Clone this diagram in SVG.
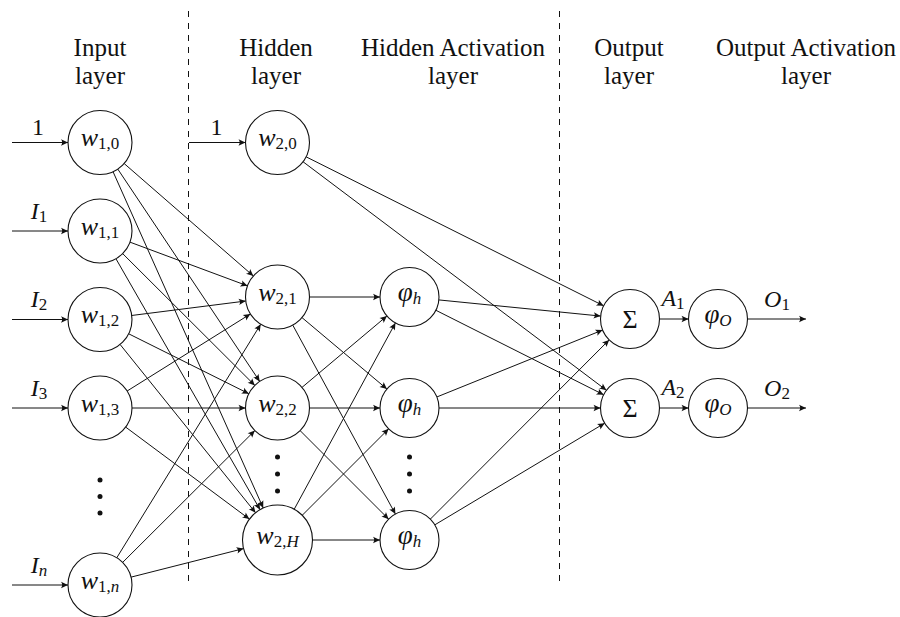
<svg xmlns="http://www.w3.org/2000/svg" width="900" height="617" viewBox="0 0 900 617">
  <defs>
    <marker id="arr" viewBox="-8 -4 9 8" refX="0" refY="0" markerWidth="9" markerHeight="8" orient="auto" markerUnits="userSpaceOnUse">
      <path d="M0,0 L-7,-3.2 Q-4.6,0 -7,3.2 Z" fill="#111"/>
    </marker>
  </defs>
  <style>
    text { font-family: "Liberation Serif", "Times New Roman", serif; fill: #111; }
    .hdr { font-size: 25px; text-anchor: middle; }
    .m { font-size: 24px; text-anchor: middle; }
    .w { font-size: 26px; font-style: italic; }
    .phi { font-size: 27px; font-style: italic; }
    .sig { font-size: 26px; }
    .sub { font-size: 17px; font-style: normal; }
    .it, .sub.it { font-style: italic; }
    .node circle { fill: #fff; stroke: #111; stroke-width: 1.1; }
    .edge line { stroke: #111; stroke-width: 1; marker-end: url(#arr); }
    .sep { stroke: #111; stroke-width: 1; stroke-dasharray: 6 6; }
    .dots circle { fill: #111; }
  </style>
  <rect width="900" height="617" fill="#fff"/>

  <!-- layer captions -->
  <g id="captions">
    <text class="hdr" x="100" y="56"><tspan x="100">Input</tspan><tspan x="100" dy="28">layer</tspan></text>
    <text class="hdr" x="276" y="56"><tspan x="276">Hidden</tspan><tspan x="276" dy="28">layer</tspan></text>
    <text class="hdr" x="453" y="56"><tspan x="453">Hidden Activation</tspan><tspan x="453" dy="28">layer</tspan></text>
    <text class="hdr" x="629" y="56"><tspan x="629">Output</tspan><tspan x="629" dy="28">layer</tspan></text>
    <text class="hdr" x="806" y="56"><tspan x="806">Output Activation</tspan><tspan x="806" dy="28">layer</tspan></text>
  </g>

  <!-- dashed layer separators -->
  <g id="separators">
    <line class="sep" x1="188.5" y1="11" x2="188.5" y2="584"/>
    <line class="sep" x1="559.5" y1="11" x2="559.5" y2="584"/>
  </g>

  <g id="connectors" class="edge">
    <!-- external inputs -->
    <line x1="12" y1="142.5" x2="68" y2="142.5"/>
    <line x1="12" y1="231" x2="68" y2="231"/>
    <line x1="12" y1="319.5" x2="68" y2="319.5"/>
    <line x1="12" y1="408" x2="68" y2="408"/>
    <line x1="12" y1="585" x2="68" y2="585"/>
    <line x1="189" y1="142.5" x2="245.5" y2="142.5"/>
    <!-- input layer to hidden layer -->
    <line x1="124.14" y1="163.51" x2="253.36" y2="275.99"/>
    <line x1="117.79" y1="169.10" x2="259.71" y2="381.40"/>
    <line x1="113.05" y1="171.72" x2="263.23" y2="508.04"/>
    <line x1="129.99" y1="242.15" x2="247.51" y2="285.85"/>
    <line x1="122.66" y1="253.60" x2="254.84" y2="385.40"/>
    <line x1="115.94" y1="258.75" x2="260.07" y2="509.65"/>
    <line x1="131.75" y1="315.47" x2="245.75" y2="301.03"/>
    <line x1="128.64" y1="333.78" x2="248.86" y2="393.72"/>
    <line x1="120.07" y1="344.43" x2="255.55" y2="512.73"/>
    <line x1="127.13" y1="391.03" x2="250.37" y2="313.97"/>
    <line x1="132" y1="408" x2="245.5" y2="408"/>
    <line x1="125.68" y1="427.10" x2="249.42" y2="519.12"/>
    <line x1="116.79" y1="557.76" x2="260.71" y2="324.24"/>
    <line x1="122.66" y1="562.40" x2="254.84" y2="430.60"/>
    <line x1="131.02" y1="577.14" x2="243.57" y2="548.60"/>
    <!-- hidden layer to hidden activations -->
    <line x1="309.5" y1="297" x2="380" y2="297"/>
    <line x1="301.99" y1="317.60" x2="386.92" y2="389.01"/>
    <line x1="292.77" y1="325.12" x2="395.42" y2="514.08"/>
    <line x1="301.99" y1="387.40" x2="386.92" y2="315.99"/>
    <line x1="309.5" y1="408" x2="380" y2="408"/>
    <line x1="300.13" y1="430.63" x2="388.64" y2="519.14"/>
    <line x1="294.21" y1="509.25" x2="395.42" y2="322.92"/>
    <line x1="302.25" y1="515.25" x2="388.64" y2="428.86"/>
    <line x1="312.5" y1="540" x2="380" y2="540"/>
    <!-- bias of hidden layer to output sums -->
    <line x1="306.11" y1="156.83" x2="603.62" y2="305.79"/>
    <line x1="303.06" y1="161.75" x2="606.44" y2="390.25"/>
    <!-- hidden activations to output sums -->
    <line x1="438.86" y1="299.93" x2="600.64" y2="316.07"/>
    <line x1="435.85" y1="310.26" x2="603.65" y2="394.74"/>
    <line x1="436.86" y1="396.96" x2="602.64" y2="330.04"/>
    <line x1="439" y1="408" x2="600.5" y2="408"/>
    <line x1="430.34" y1="519.12" x2="609.16" y2="339.88"/>
    <line x1="434.81" y1="524.85" x2="604.69" y2="423.15"/>
    <!-- sums to output activations, and outputs -->
    <line x1="659.5" y1="319" x2="688.5" y2="319"/>
    <line x1="659.5" y1="408" x2="688.5" y2="408"/>
    <line x1="747.5" y1="319" x2="806" y2="319"/>
    <line x1="747.5" y1="408" x2="806" y2="408"/>
  </g>

  <!-- connector labels -->
  <g id="edge-labels">
    <text class="m" x="38" y="135">1</text>
    <text class="m" x="216.5" y="135">1</text>
    <text class="m" x="39" y="218.5"><tspan class="it">I</tspan><tspan class="sub" dy="3">1</tspan></text>
    <text class="m" x="39" y="307"><tspan class="it">I</tspan><tspan class="sub" dy="3">2</tspan></text>
    <text class="m" x="39" y="395.5"><tspan class="it">I</tspan><tspan class="sub" dy="3">3</tspan></text>
    <text class="m" x="39" y="572.5"><tspan class="it">I</tspan><tspan class="sub it" dy="3">n</tspan></text>
    <text class="m" x="673" y="306"><tspan class="it">A</tspan><tspan class="sub" dy="3">1</tspan></text>
    <text class="m" x="673" y="395"><tspan class="it">A</tspan><tspan class="sub" dy="3">2</tspan></text>
    <text class="m" x="777" y="307"><tspan class="it">O</tspan><tspan class="sub" dy="3">1</tspan></text>
    <text class="m" x="777" y="396"><tspan class="it">O</tspan><tspan class="sub" dy="3">2</tspan></text>
  </g>

  <!-- input layer -->
  <g id="w10" class="node"><circle cx="100" cy="142.5" r="32"/><text class="m" x="100" y="146"><tspan class="w">w</tspan><tspan class="sub" dy="3">1,0</tspan></text></g>
  <g id="w11" class="node"><circle cx="100" cy="231" r="32"/><text class="m" x="100" y="234.5"><tspan class="w">w</tspan><tspan class="sub" dy="3">1,1</tspan></text></g>
  <g id="w12" class="node"><circle cx="100" cy="319.5" r="32"/><text class="m" x="100" y="323"><tspan class="w">w</tspan><tspan class="sub" dy="3">1,2</tspan></text></g>
  <g id="w13" class="node"><circle cx="100" cy="408" r="32"/><text class="m" x="100" y="411.5"><tspan class="w">w</tspan><tspan class="sub" dy="3">1,3</tspan></text></g>
  <g id="w1n" class="node"><circle cx="100" cy="585" r="32"/><text class="m" x="100" y="588.5"><tspan class="w">w</tspan><tspan class="sub" dy="3">1,<tspan class="it">n</tspan></tspan></text></g>
  <g id="input-dots" class="dots"><circle cx="100" cy="480" r="2.5"/><circle cx="100" cy="496.5" r="2.5"/><circle cx="100" cy="513" r="2.5"/></g>

  <!-- hidden layer -->
  <g id="w20" class="node"><circle cx="277.5" cy="142.5" r="32"/><text class="m" x="277.5" y="146"><tspan class="w">w</tspan><tspan class="sub" dy="3">2,0</tspan></text></g>
  <g id="w21" class="node"><circle cx="277.5" cy="297" r="32"/><text class="m" x="277.5" y="300.5"><tspan class="w">w</tspan><tspan class="sub" dy="3">2,1</tspan></text></g>
  <g id="w22" class="node"><circle cx="277.5" cy="408" r="32"/><text class="m" x="277.5" y="411.5"><tspan class="w">w</tspan><tspan class="sub" dy="3">2,2</tspan></text></g>
  <g id="w2H" class="node"><circle cx="277.5" cy="540" r="35"/><text class="m" x="277.5" y="543.5"><tspan class="w">w</tspan><tspan class="sub" dy="3">2,<tspan class="it">H</tspan></tspan></text></g>
  <g id="hidden-dots" class="dots"><circle cx="277.5" cy="457" r="2.5"/><circle cx="277.5" cy="474" r="2.5"/><circle cx="277.5" cy="491" r="2.5"/></g>

  <!-- hidden activation layer -->
  <g id="phi-h1" class="node"><circle cx="409.5" cy="297" r="29.5"/><text class="m" x="409.5" y="301"><tspan class="phi">φ</tspan><tspan class="sub it" dy="3">h</tspan></text></g>
  <g id="phi-h2" class="node"><circle cx="409.5" cy="408" r="29.5"/><text class="m" x="409.5" y="412"><tspan class="phi">φ</tspan><tspan class="sub it" dy="3">h</tspan></text></g>
  <g id="phi-h3" class="node"><circle cx="409.5" cy="540" r="29.5"/><text class="m" x="409.5" y="544"><tspan class="phi">φ</tspan><tspan class="sub it" dy="3">h</tspan></text></g>
  <g id="act-dots" class="dots"><circle cx="409.5" cy="457" r="2.5"/><circle cx="409.5" cy="474" r="2.5"/><circle cx="409.5" cy="491" r="2.5"/></g>

  <!-- output layer -->
  <g id="sum1" class="node"><circle cx="630" cy="319" r="29.5"/><text class="m sig" x="630" y="327.5">Σ</text></g>
  <g id="sum2" class="node"><circle cx="630" cy="408" r="29.5"/><text class="m sig" x="630" y="416.5">Σ</text></g>

  <!-- output activation layer -->
  <g id="phi-o1" class="node"><circle cx="718" cy="319" r="29.5"/><text class="m" x="718" y="323"><tspan class="phi">φ</tspan><tspan class="sub it" dy="3">O</tspan></text></g>
  <g id="phi-o2" class="node"><circle cx="718" cy="408" r="29.5"/><text class="m" x="718" y="412"><tspan class="phi">φ</tspan><tspan class="sub it" dy="3">O</tspan></text></g>
</svg>
